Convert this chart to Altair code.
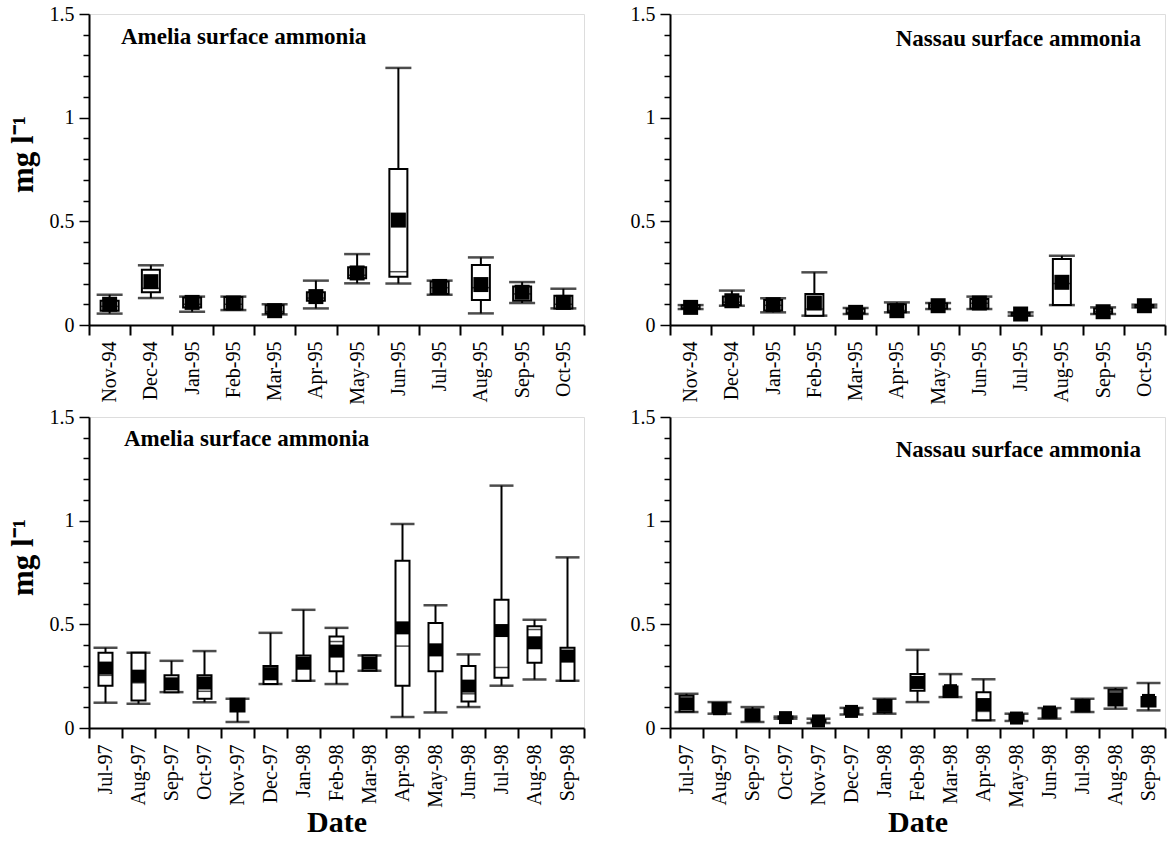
import altair as alt
import pandas as pd

# ---------------- data ----------------
months_9495 = ["Nov-94", "Dec-94", "Jan-95", "Feb-95", "Mar-95", "Apr-95",
               "May-95", "Jun-95", "Jul-95", "Aug-95", "Sep-95", "Oct-95"]
months_9798 = ["Jul-97", "Aug-97", "Sep-97", "Oct-97", "Nov-97", "Dec-97", "Jan-98",
               "Feb-98", "Mar-98", "Apr-98", "May-98", "Jun-98", "Jul-98", "Aug-98", "Sep-98"]

# Amelia surface ammonia 1994-95
am1_lo   = [0.055, 0.130, 0.064, 0.072, 0.051, 0.080, 0.201, 0.200, 0.146, 0.056, 0.106, 0.080]
am1_q1   = [0.069, 0.158, 0.085, 0.075, 0.055, 0.117, 0.225, 0.233, 0.150, 0.121, 0.117, 0.080]
am1_med  = [0.090, 0.177, 0.100, 0.100, 0.065, 0.130, 0.240, 0.257, 0.180, 0.180, 0.150, 0.100]
am1_q3   = [0.117, 0.267, 0.133, 0.135, 0.095, 0.158, 0.278, 0.752, 0.210, 0.289, 0.186, 0.141]
am1_hi   = [0.146, 0.288, 0.137, 0.137, 0.100, 0.214, 0.342, 1.240, 0.214, 0.326, 0.207, 0.175]
am1_mean = [0.100, 0.209, 0.109, 0.106, 0.069, 0.137, 0.251, 0.506, 0.186, 0.195, 0.158, 0.109]

# Nassau surface ammonia 1994-95
na1_lo   = [0.077, 0.093, 0.061, 0.045, 0.053, 0.061, 0.077, 0.077, 0.045, 0.096, 0.053, 0.085]
na1_q1   = [0.078, 0.096, 0.070, 0.045, 0.055, 0.062, 0.080, 0.080, 0.046, 0.096, 0.055, 0.086]
na1_med  = [0.085, 0.110, 0.095, 0.077, 0.060, 0.070, 0.092, 0.105, 0.050, 0.200, 0.065, 0.092]
na1_q3   = [0.095, 0.137, 0.120, 0.150, 0.078, 0.100, 0.104, 0.125, 0.058, 0.318, 0.080, 0.097]
na1_hi   = [0.096, 0.166, 0.129, 0.254, 0.082, 0.109, 0.106, 0.137, 0.061, 0.334, 0.085, 0.098]
na1_mean = [0.085, 0.117, 0.098, 0.106, 0.061, 0.069, 0.093, 0.106, 0.053, 0.206, 0.064, 0.093]

# Amelia surface ammonia 1997-98
am2_lo   = [0.122, 0.117, 0.173, 0.124, 0.029, 0.212, 0.228, 0.212, 0.276, 0.053, 0.075, 0.101, 0.204, 0.234, 0.228]
am2_q1   = [0.204, 0.133, 0.173, 0.141, 0.080, 0.212, 0.228, 0.274, 0.276, 0.204, 0.274, 0.128, 0.242, 0.315, 0.228]
am2_med  = [0.254, 0.218, 0.200, 0.177, 0.100, 0.234, 0.286, 0.417, 0.300, 0.395, 0.350, 0.165, 0.292, 0.475, 0.321]
am2_q3   = [0.363, 0.363, 0.254, 0.254, 0.141, 0.299, 0.350, 0.441, 0.350, 0.807, 0.507, 0.299, 0.618, 0.491, 0.387]
am2_hi   = [0.387, 0.363, 0.324, 0.371, 0.141, 0.459, 0.570, 0.483, 0.350, 0.984, 0.592, 0.355, 1.169, 0.522, 0.823]
am2_mean = [0.289, 0.250, 0.213, 0.217, 0.109, 0.262, 0.313, 0.371, 0.313, 0.483, 0.377, 0.202, 0.470, 0.411, 0.347]

# Nassau surface ammonia 1997-98
na2_lo   = [0.077, 0.069, 0.029, 0.045, 0.024, 0.065, 0.069, 0.125, 0.149, 0.037, 0.034, 0.045, 0.077, 0.093, 0.085]
na2_q1   = [0.080, 0.075, 0.035, 0.045, 0.030, 0.068, 0.075, 0.180, 0.150, 0.037, 0.040, 0.050, 0.080, 0.109, 0.104]
na2_med  = [0.115, 0.090, 0.060, 0.050, 0.034, 0.080, 0.105, 0.193, 0.180, 0.080, 0.048, 0.075, 0.105, 0.177, 0.130]
na2_q3   = [0.155, 0.120, 0.090, 0.055, 0.040, 0.095, 0.135, 0.260, 0.200, 0.173, 0.065, 0.090, 0.135, 0.184, 0.149]
na2_hi   = [0.165, 0.125, 0.101, 0.055, 0.045, 0.097, 0.141, 0.377, 0.260, 0.235, 0.069, 0.096, 0.141, 0.193, 0.217]
na2_mean = [0.117, 0.093, 0.061, 0.050, 0.034, 0.080, 0.109, 0.220, 0.180, 0.113, 0.048, 0.077, 0.109, 0.141, 0.133]

y_ticks = [round(i * 0.1, 1) for i in range(16)]

FONT = "Liberation Serif"
W, H = 495, 311


def panel(months, lo, q1, med, q3, hi, mean, label, label_left, label_y,
          ytitle, xtitle, box_w, cap_w, sq):
    df = pd.DataFrame({"month": months, "lo": lo, "q1": q1, "med": med,
                       "q3": q3, "hi": hi, "mean": mean})
    major = "abs(datum.value*2 - round(datum.value*2)) < 1e-6"
    yaxis_kw = dict(
        values=y_ticks,
        labelExpr=f"{major} ? format(datum.value, '~g') : ''",
        labelOverlap=False, labelBound=False, labelFlush=False,
        tickSize={"condition": {"test": major, "value": 10}, "value": 6},
        tickWidth=1.5, tickColor="black", domainColor="black", domainWidth=2,
        labelFont=FONT, labelFontSize=20, labelColor="black", labelPadding=5,
        grid=False,
    )
    if ytitle:
        yaxis_kw.update(title=ytitle, titleFont=FONT, titleFontSize=31,
                        titleFontWeight="bold", titleColor="black",
                        titleAngle=270, titleX=-50, titleY=140,
                        titleAlign="center", titleBaseline="bottom")
    else:
        yaxis_kw.update(title=None)
    yaxis = alt.Axis(**yaxis_kw)
    yscale = alt.Scale(domain=[0, 1.5], nice=False, zero=True)

    xaxis_kw = dict(
        labelAngle=270, tickBand="extent", tickSize=10, tickWidth=2,
        tickColor="black", domainColor="black", domainWidth=2,
        labelFont=FONT, labelFontSize=20, labelColor="black", labelPadding=6,
        labelOverlap=False, grid=False,
    )
    if xtitle:
        xaxis_kw.update(title=xtitle, titleFont=FONT, titleFontSize=30,
                        titleFontWeight="bold", titleColor="black",
                        titleY=103, titleBaseline="alphabetic")
    else:
        xaxis_kw.update(title=None)
    xenc = alt.X("month:N", sort=months,
                 scale=alt.Scale(paddingInner=0, paddingOuter=0),
                 axis=alt.Axis(**xaxis_kw))

    base = alt.Chart(df).encode(x=xenc)
    whisker = base.mark_rule(color="black", strokeWidth=2).encode(
        y=alt.Y("lo:Q", scale=yscale, axis=yaxis), y2="hi:Q")
    cap_hi = base.mark_tick(color="black", thickness=2.5, size=cap_w).encode(
        y=alt.Y("hi:Q", axis=yaxis))
    cap_lo = base.mark_tick(color="black", thickness=2.5, size=cap_w).encode(
        y=alt.Y("lo:Q", axis=yaxis))
    box = base.mark_bar(fill="white", stroke="black", strokeWidth=2,
                        size=box_w).encode(y=alt.Y("q1:Q", axis=yaxis), y2="q3:Q")
    median = base.mark_tick(color="black", thickness=1.5, size=box_w).encode(
        y=alt.Y("med:Q", axis=yaxis))
    meanpt = base.mark_square(size=sq * sq, color="black", opacity=1,
                              filled=True).encode(y=alt.Y("mean:Q", axis=yaxis))

    lab_df = pd.DataFrame({"t": [label]})
    if label_left is not None:
        txt = alt.Chart(lab_df).mark_text(
            font=FONT, fontSize=23, fontWeight="bold", color="black",
            align="left", baseline="alphabetic").encode(
            text="t:N", x=alt.value(label_left), y=alt.value(label_y))
    else:
        txt = alt.Chart(lab_df).mark_text(
            font=FONT, fontSize=23, fontWeight="bold", color="black",
            align="right", baseline="alphabetic").encode(
            text="t:N", x=alt.value(471), y=alt.value(label_y))

    return alt.layer(whisker, cap_hi, cap_lo, box, median, meanpt, txt).properties(
        width=W, height=H)


p1 = panel(months_9495, am1_lo, am1_q1, am1_med, am1_q3, am1_hi, am1_mean,
           "Amelia surface ammonia", 32, 30, "mg l⁻¹", None, 18, 26, 15)
p2 = panel(months_9495, na1_lo, na1_q1, na1_med, na1_q3, na1_hi, na1_mean,
           "Nassau surface ammonia", None, 32, None, None, 18, 26, 15)
p3 = panel(months_9798, am2_lo, am2_q1, am2_med, am2_q3, am2_hi, am2_mean,
           "Amelia surface ammonia", 35, 29, "mg l⁻¹", "Date", 14, 24, 13)
p4 = panel(months_9798, na2_lo, na2_q1, na2_med, na2_q3, na2_hi, na2_mean,
           "Nassau surface ammonia", None, 40, None, "Date", 14, 24, 13)

chart = alt.concat(p1, p2, p3, p4, columns=2,
                   spacing={"row": 92, "column": 86}).properties(
    bounds="flush",
    padding={"left": 6, "top": 3, "right": 5, "bottom": 5},
).configure_view(stroke="black", strokeWidth=2).configure(
    background="white").configure_axis(labelFont=FONT).configure_axisY(
    labelOverlap=False, labelFont=FONT)

chart.save("out.html", embed_options={"renderer": "svg", "actions": False})
